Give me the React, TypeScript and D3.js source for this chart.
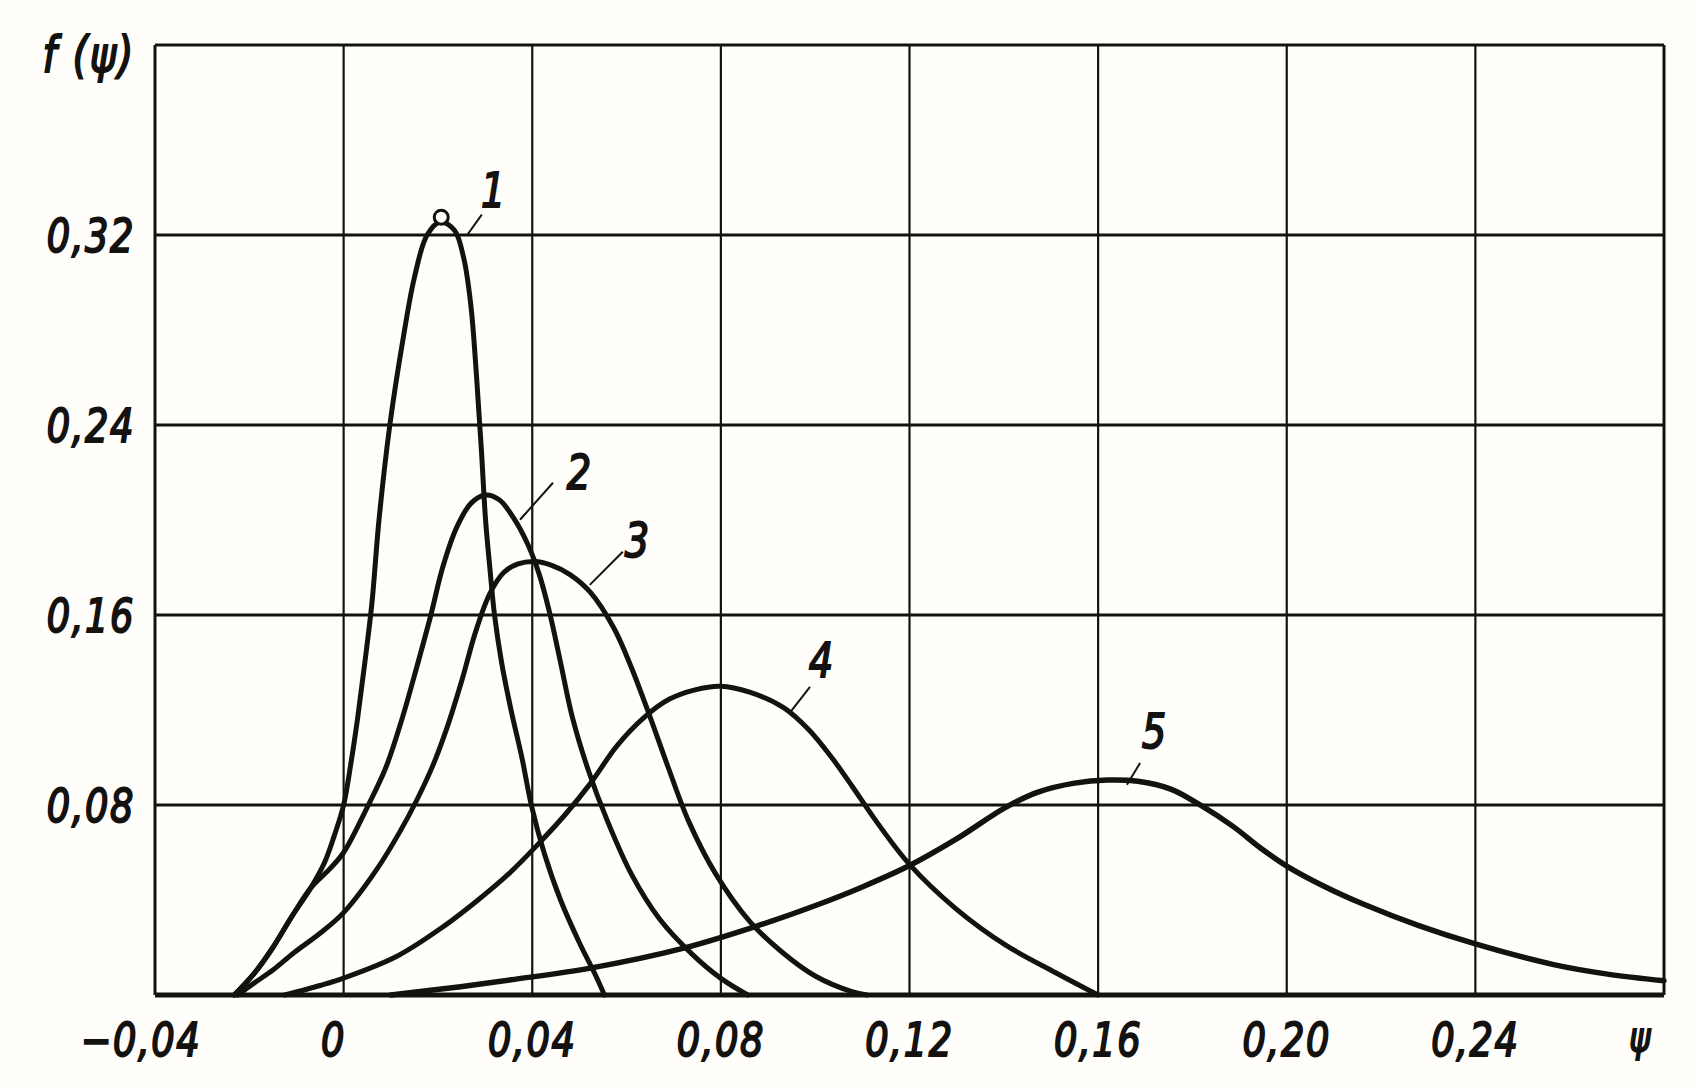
import React from "react";
import * as d3 from "d3";

type Pt = [number, number];

// values (psi, f(psi))
const curve1: Pt[] = [
  [-0.0232, 0], [-0.019, 0.009], [-0.015, 0.02], [-0.011, 0.033], [-0.007, 0.045],
  [-0.004, 0.056], [-0.002, 0.067], [0, 0.08], [0.0015, 0.097], [0.003, 0.117],
  [0.0045, 0.14], [0.006, 0.165], [0.0075, 0.2], [0.0098, 0.24], [0.0125, 0.275],
  [0.015, 0.302], [0.0177, 0.32], [0.0205, 0.3255], [0.0235, 0.322], [0.0255, 0.31],
  [0.027, 0.29], [0.0282, 0.26], [0.0292, 0.23], [0.0301, 0.2], [0.031, 0.18],
  [0.032, 0.16], [0.0335, 0.14], [0.0355, 0.12], [0.0378, 0.1], [0.0398, 0.08],
  [0.0425, 0.06], [0.046, 0.04], [0.05, 0.022], [0.0535, 0.008], [0.0553, 0],
];
const curve2: Pt[] = [
  [-0.0232, 0], [-0.019, 0.009], [-0.015, 0.02], [-0.011, 0.033], [-0.007, 0.045],
  [-0.003, 0.053], [0, 0.06], [0.005, 0.079], [0.009, 0.096], [0.0125, 0.117],
  [0.0155, 0.138], [0.0185, 0.16], [0.021, 0.18], [0.024, 0.197], [0.027, 0.207],
  [0.03, 0.2105], [0.033, 0.2085], [0.036, 0.201], [0.039, 0.19], [0.0415, 0.177],
  [0.0438, 0.16], [0.046, 0.14], [0.0485, 0.117], [0.052, 0.094], [0.056, 0.073],
  [0.061, 0.051], [0.067, 0.032], [0.074, 0.017], [0.08, 0.007], [0.0857, 0],
];
const curve3: Pt[] = [
  [-0.0225, 0], [-0.019, 0.005], [-0.015, 0.0105], [-0.0106, 0.0177], [-0.005, 0.026],
  [0, 0.0347], [0.0071, 0.0531], [0.012, 0.069], [0.0155, 0.082], [0.019, 0.097],
  [0.022, 0.113], [0.025, 0.132], [0.028, 0.153], [0.031, 0.169], [0.034, 0.178],
  [0.037, 0.1815], [0.0405, 0.1825], [0.044, 0.181], [0.048, 0.177], [0.0523, 0.1696],
  [0.0573, 0.1545], [0.061, 0.138], [0.065, 0.117], [0.0688, 0.096], [0.0732, 0.073],
  [0.0789, 0.051], [0.0861, 0.031], [0.093, 0.018], [0.1, 0.008], [0.1078, 0.0014], [0.111, 0],
];
const curve4: Pt[] = [
  [-0.0125, 0], [-0.005, 0.004], [0, 0.0071], [0.0113, 0.0163], [0.0213, 0.029],
  [0.0285, 0.04], [0.035, 0.051], [0.041, 0.063], [0.047, 0.076], [0.0523, 0.089],
  [0.058, 0.105], [0.0638, 0.117], [0.069, 0.1245], [0.0745, 0.1285], [0.08, 0.13],
  [0.0861, 0.1275], [0.0933, 0.121], [0.0985, 0.112], [0.1035, 0.1], [0.1078, 0.088],
  [0.113, 0.073], [0.12, 0.055], [0.1298, 0.0364], [0.1404, 0.021], [0.1509, 0.0095], [0.16, 0],
];
const curve5: Pt[] = [
  [0.01, 0], [0.0248, 0.0035], [0.0355, 0.0064], [0.0523, 0.0113], [0.0717, 0.0195],
  [0.0876, 0.029], [0.1005, 0.038], [0.11, 0.0455], [0.12, 0.0545], [0.1298, 0.0655],
  [0.1404, 0.079], [0.1474, 0.0855], [0.155, 0.0892], [0.162, 0.0905], [0.1684, 0.09],
  [0.1754, 0.0867], [0.1818, 0.0798], [0.1886, 0.071], [0.1945, 0.0618], [0.2, 0.0543],
  [0.208, 0.0457], [0.2162, 0.0383], [0.228, 0.0292], [0.24, 0.0215], [0.2566, 0.0128],
  [0.268, 0.0088], [0.28, 0.006],
];

const curves = [curve1, curve2, curve3, curve4, curve5];
const curveNames = ["1", "2", "3", "4", "5"];

const xTickValues = [-0.04, 0, 0.04, 0.08, 0.12, 0.16, 0.2, 0.24];
const yTickValues = [0.08, 0.16, 0.24, 0.32];

// where the curve numbers and their leader strokes sit (data units)
const nameSpots: Pt[] = [
  [0.0319, 0.339], [0.0501, 0.2203], [0.0624, 0.1917], [0.1014, 0.1411], [0.172, 0.1112],
];
const leaders: [Pt, Pt][] = [
  [[0.0293, 0.3286], [0.0262, 0.32]],
  [[0.0444, 0.2157], [0.0374, 0.2001]],
  [[0.0592, 0.1866], [0.0522, 0.1727]],
  [[0.0989, 0.1297], [0.0946, 0.1188]],
  [[0.1689, 0.0977], [0.1661, 0.0885]],
];
const peakMark: Pt = [0.0207, 0.3275];

const W = 1700;
const H = 1088;
const margin = { top: 45, right: 36, bottom: 93, left: 155 };
const ink = "#141210";
const paper = "#fffefb";
const font = "'DejaVu Sans', 'Liberation Sans', sans-serif";

const fmt = (v: number) =>
  Math.abs(v) < 1e-9 ? "0" : d3.format(".2f")(v).replace("-", "−").replace(".", ",");

const App = () => {
  const x = d3.scaleLinear().domain([-0.04, 0.28]).range([margin.left, W - margin.right]);
  const y = d3.scaleLinear().domain([0, 0.4]).range([H - margin.bottom, margin.top]);
  const line = d3
    .line<Pt>()
    .x((d) => x(d[0]))
    .y((d) => y(d[1]))
    .curve(d3.curveCatmullRom.alpha(0.5));

  const xGrid = d3.range(0, 9).map((i) => -0.04 + i * 0.04);
  const yGrid = d3.range(0, 6).map((i) => i * 0.08);

  const label = (txt: string, px: number, py: number, anchor: string, size = 46) => (
    <text
      key={txt + px + py}
      transform={`translate(${px},${py}) scale(0.8,1)`}
      textAnchor={anchor}
      fontFamily={font}
      fontStyle="italic"
      fontSize={size}
      letterSpacing={2}
      fill={ink}
      stroke={ink}
      strokeWidth={2}
    >
      {txt}
    </text>
  );

  return (
    <svg
      width={W}
      height={H}
      style={{ position: "absolute", left: 0, top: 0, background: paper }}
    >
      {/* grid */}
      {xGrid.map((v, i) => (
        <line
          key={"vx" + i}
          x1={x(v)}
          x2={x(v)}
          y1={y(0.4)}
          y2={y(0)}
          stroke={ink}
          strokeWidth={i === 0 || i === 8 ? 3 : 2.2}
        />
      ))}
      {yGrid.map((v, i) => (
        <line
          key={"hy" + i}
          x1={x(-0.04)}
          x2={x(0.28)}
          y1={y(v)}
          y2={y(v)}
          stroke={ink}
          strokeWidth={i === 0 ? 5 : 3}
        />
      ))}

      {/* curves */}
      {curves.map((c, i) => (
        <path
          key={"c" + i}
          d={line(c) || ""}
          fill="none"
          stroke={ink}
          strokeWidth={i === 4 ? 5.5 : 5}
          strokeLinejoin="round"
          strokeLinecap="round"
        />
      ))}
      <circle cx={x(peakMark[0])} cy={y(peakMark[1])} r={7} fill={paper} stroke={ink} strokeWidth={3} />

      {/* curve numbers */}
      {leaders.map((l, i) => (
        <line
          key={"l" + i}
          x1={x(l[0][0])}
          y1={y(l[0][1])}
          x2={x(l[1][0])}
          y2={y(l[1][1])}
          stroke={ink}
          strokeWidth={2}
        />
      ))}
      {curveNames.map((n, i) => label(n, x(nameSpots[i][0]), y(nameSpots[i][1]) + 17, "middle", 48))}

      {/* tick labels */}
      {yTickValues.map((v) => label(fmt(v), margin.left - 20, y(v) + 17, "end"))}
      {xTickValues.map((v, i) =>
        label(fmt(v), x(v) + (i === 0 ? -14 : i === 1 ? -10 : 0), H - margin.bottom + 61, "middle")
      )}
      {label("ψ", W - margin.right - 12, H - margin.bottom + 56, "end", 40)}
      {label("f (ψ)", margin.left - 20, 72, "end", 50)}
    </svg>
  );
};

export default App;
